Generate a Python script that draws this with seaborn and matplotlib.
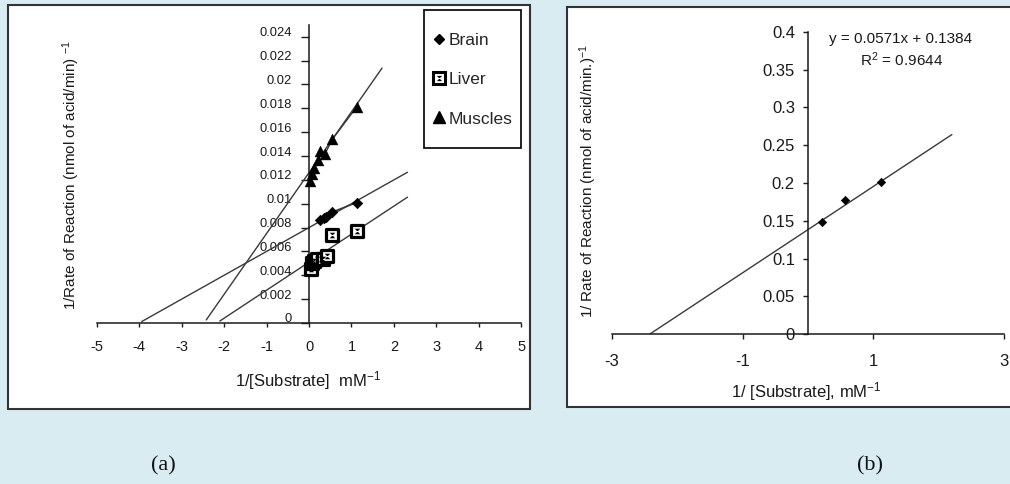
import numpy as np
import matplotlib
matplotlib.use("Agg")
import matplotlib.pyplot as plt
import matplotlib.transforms as mtransforms
from matplotlib.lines import Line2D
from matplotlib.patches import Rectangle
from matplotlib.path import Path
from matplotlib.legend_handler import HandlerTuple
from matplotlib.ticker import FuncFormatter
import seaborn as sns

# ---- panel (a): Lineweaver-Burk plots for three tissues ----
brain_x = [0.27, 0.36, 0.41, 0.55, 1.12]
brain_y = [0.0086, 0.0088, 0.0089, 0.0093, 0.0101]
liver_x = [0.04, 0.08, 0.12, 0.18, 0.33, 0.42, 0.55, 1.12]
liver_y = [0.0045, 0.0050, 0.0052, 0.0054, 0.0054, 0.0056, 0.0074, 0.0077]
muscle_x = [0.03, 0.07, 0.12, 0.22, 0.27, 0.38, 0.55, 1.12]
muscle_y = [0.0119, 0.0125, 0.0130, 0.0137, 0.0144, 0.0142, 0.0154, 0.0181]

# trend lines (slope, intercept) and the x range they are drawn over
brain_fit, brain_span = (0.0020, 0.0080), [-3.94, 2.32]
liver_fit, liver_span = (0.00235, 0.0051), [-2.10, 2.32]
muscle_fit, muscle_span = (0.0051, 0.0126), [-2.42, 1.72]

a_xticks = [-5, -4, -3, -2, -1, 0, 1, 2, 3, 4, 5]
a_yticks = [0, 0.002, 0.004, 0.006, 0.008, 0.01, 0.012, 0.014, 0.016, 0.018, 0.02, 0.022, 0.024]

# ---- panel (b) ----
b_x = [0.22, 0.56, 1.12]
b_y = [0.148, 0.177, 0.201]
b_fit, b_span = (0.0571, 0.1384), [-2.42, 2.20]
b_xticks = [-3, -1, 1, 3]
b_yticks = [0, 0.05, 0.1, 0.15, 0.2, 0.25, 0.3, 0.35, 0.4]

W, H = 1010, 484


def fx(px):
    return px / W


def fy(py):
    return 1 - py / H


sns.set_theme(style="white")
plt.rcParams["font.family"] = ["Liberation Sans", "DejaVu Sans"]
plt.rcParams["mathtext.default"] = "regular"
plt.rcParams["axes.unicode_minus"] = False

fig = plt.figure(figsize=(W / 100, H / 100), dpi=100, facecolor="#d8ecf2")


def panel(x0, y0, x1, y1):
    fig.patches.append(Rectangle((fx(x0), fy(y1)), (x1 - x0) / W, (y1 - y0) / H,
                                 transform=fig.transFigure, facecolor="white",
                                 edgecolor="#333333", lw=1.5, zorder=-1))


panel(8, 5, 530, 409)
panel(567, 7, 1015, 407)

fmt = FuncFormatter(lambda v, p: f"{round(v, 4):g}")
ink = "#1a1a1a"
line_c = "#3a3a3a"


def style_axes(ax):
    ax.set_facecolor("none")
    ax.spines["left"].set_position(("data", 0))
    for s in ["top", "right"]:
        ax.spines[s].set_visible(False)
    for s in ["left", "bottom"]:
        ax.spines[s].set_color(ink)
        ax.spines[s].set_linewidth(1.1)
    ax.yaxis.set_major_formatter(fmt)


def trend(ax, fit, span):
    m, b = fit
    sns.lineplot(x=span, y=[m * v + b for v in span], ax=ax, color=line_c, lw=1,
                 estimator=None, sort=False)


# ---------- (a) ----------
ax1 = fig.add_axes([fx(96.7), fy(323), (521.3 - 96.7) / W, (323 - 24.8) / H])
style_axes(ax1)
ax1.set_xlim(-5, 5)
ax1.set_ylim(0, 0.025)
ax1.set_xticks(a_xticks)
ax1.set_yticks(a_yticks)
ax1.tick_params(axis="x", bottom=True, direction="out", length=3, width=1,
                pad=9, labelsize=10.5, color=ink, labelcolor=ink)
ax1.tick_params(axis="y", left=True, direction="out", length=5.8, width=1,
                pad=6.7, labelsize=9.3, color=ink, labelcolor=ink)

trend(ax1, brain_fit, brain_span)
trend(ax1, liver_fit, liver_span)
trend(ax1, muscle_fit, muscle_span)
sns.lineplot(x=brain_x, y=brain_y, ax=ax1, color=line_c, lw=1.2, estimator=None)
sns.lineplot(x=muscle_x, y=muscle_y, ax=ax1, color=line_c, lw=1, estimator=None)

hourglass = Path([(-1, 1), (1, 1), (-1, -1), (1, -1), (-1, 1)], closed=True)

sns.scatterplot(x=brain_x, y=brain_y, ax=ax1, marker="D", s=28, color="black",
                edgecolor="black", linewidth=0.5, zorder=3)
sns.scatterplot(x=liver_x, y=liver_y, ax=ax1, marker="s", s=75, color="white",
                edgecolor="black", linewidth=2.3, zorder=3)
sns.scatterplot(x=liver_x, y=liver_y, ax=ax1, marker=hourglass, s=16, color="black",
                linewidth=0, zorder=4)
sns.scatterplot(x=muscle_x, y=muscle_y, ax=ax1, marker="^", s=62, color="black",
                edgecolor="black", linewidth=0.3, zorder=3)
ax1.set_xlabel("")
ax1.set_ylabel("")

# tick labels on the left y axis sit a little above their ticks
shift = mtransforms.ScaledTranslation(0, 0.05, fig.dpi_scale_trans)
for t in ax1.yaxis.get_major_ticks():
    t.label1.set_transform(t.label1.get_transform() + shift)

h_brain = Line2D([], [], marker="D", ls="none", color="black", markersize=4.6)
h_liver = (Line2D([], [], marker="s", ls="none", mfc="white", mec="black", mew=2.2,
                  markersize=8),
           Line2D([], [], marker=hourglass, ls="none", color="black", mew=0,
                  markersize=3.8))
h_musc = Line2D([], [], marker="^", ls="none", color="black", markersize=8)
ax1.legend([h_brain, h_liver, h_musc], ["Brain", "Liver", "Muscles"],
           handler_map={tuple: HandlerTuple(ndivide=1)}, loc="center left",
           bbox_to_anchor=(fx(432), fy(79.5)), bbox_transform=fig.transFigure,
           borderaxespad=0, borderpad=0, frameon=False, fontsize=12.5,
           handlelength=0.8, handletextpad=0.15, labelspacing=1.4)
fig.patches.append(Rectangle((fx(424), fy(148)), (521 - 424) / W, (148 - 10) / H,
                             transform=fig.transFigure, facecolor="white",
                             edgecolor="#111111", lw=1.3, zorder=-0.5))

fig.text(fx(71), fy(175), "1/Rate of Reaction (nmol of acid/min) $^{-1}$",
         rotation=90, ha="center", va="center", fontsize=11, color=ink)
fig.text(fx(308), fy(381), "1/[Substrate]  mM$^{-1}$", ha="center", va="center",
         fontsize=12, color=ink)

# ---------- (b) ----------
ax2 = fig.add_axes([fx(611.8), fy(334.3), (1004.2 - 611.8) / W, (334.3 - 31.7) / H])
style_axes(ax2)
ax2.set_xlim(-3, 3)
ax2.set_ylim(0, 0.4)
ax2.set_xticks(b_xticks)
ax2.set_yticks(b_yticks)
ax2.tick_params(axis="x", bottom=True, direction="out", length=3.6, width=1,
                pad=10.5, labelsize=12, color=ink, labelcolor=ink)
ax2.tick_params(axis="y", left=True, direction="out", length=3.6, width=1,
                pad=5.8, labelsize=12, color=ink, labelcolor=ink)
trend(ax2, b_fit, b_span)
sns.scatterplot(x=b_x, y=b_y, ax=ax2, marker="D", s=18, color="black",
                edgecolor="black", linewidth=0.5, zorder=3)
ax2.set_xlabel("")
ax2.set_ylabel("")

fig.text(fx(901), fy(39), f"y = {b_fit[0]}x + {b_fit[1]}", ha="center", va="center",
         fontsize=11, color=ink)
fig.text(fx(902), fy(60), "R$^2$ = 0.9644", ha="center", va="center",
         fontsize=11, color=ink)
fig.text(fx(588), fy(181), "1/ Rate of Reaction (nmol of acid/min.)$^{-1}$",
         rotation=90, ha="center", va="center", fontsize=11, color=ink)
fig.text(fx(806), fy(392), "1/ [Substrate], mM$^{-1}$", ha="center", va="center",
         fontsize=12, color=ink)

# captions
fig.text(fx(163), fy(466), "(a)", ha="center", va="center", fontsize=16,
         family=["Liberation Serif", "DejaVu Serif"], color="#111111")
fig.text(fx(870), fy(466), "(b)", ha="center", va="center", fontsize=16,
         family=["Liberation Serif", "DejaVu Serif"], color="#111111")

fig.savefig("out.png", dpi=100, facecolor=fig.get_facecolor())
